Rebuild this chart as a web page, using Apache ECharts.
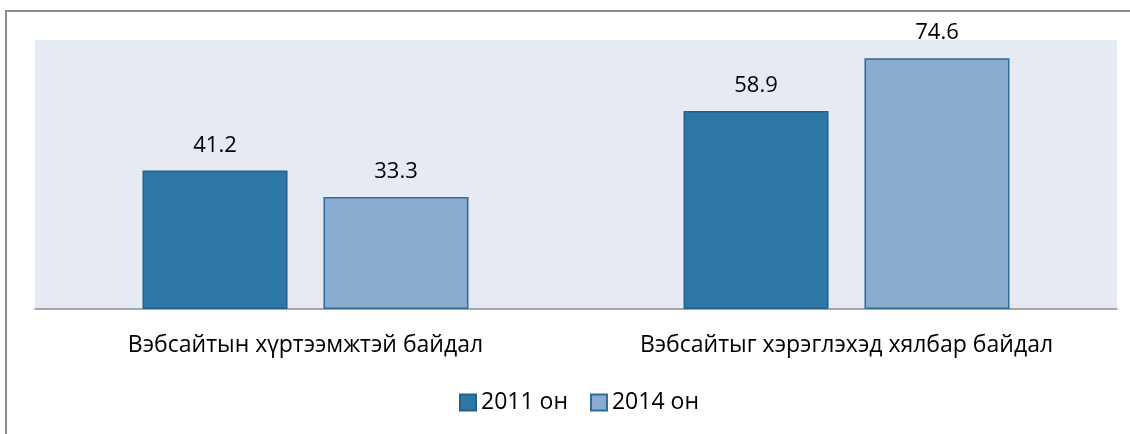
<!DOCTYPE html>
<html>
<head>
<meta charset="utf-8">
<script src="https://cdn.jsdelivr.net/npm/echarts@6/dist/echarts.min.js"></script>
<style>
  html, body { margin: 0; padding: 0; background: #ffffff; }
  #chart { width: 1130px; height: 434px; }
</style>
</head>
<body>
<div id="chart"></div>
<script>
// Survey indicators, by year
const categories = ['Вэбсайтын хүртээмжтэй байдал', 'Вэбсайтыг хэрэглэхэд хялбар байдал'];
const seriesNames = ['2011 он', '2014 он'];
const values2011 = [41.2, 58.9];
const values2014 = [33.3, 74.6];

const FONT = '"Open Sans", "Noto Sans", sans-serif';

const chart = echarts.init(document.getElementById('chart'), null, { renderer: 'canvas' });

function barSeries(name, data, fill, border) {
  return {
    name: name,
    type: 'bar',
    data: data,
    barWidth: 145,
    barGap: '24.8%',
    itemStyle: { color: fill, borderColor: border, borderWidth: 1.5 },
    label: {
      show: true,
      position: 'top',
      distance: 14,
      color: '#000000',
      fontFamily: FONT,
      fontSize: 22,
      formatter: p => p.value.toFixed(1)
    }
  };
}

chart.setOption({
  animation: false,
  backgroundColor: '#ffffff',
  textStyle: { fontFamily: FONT },
  graphic: [{
    type: 'rect',
    silent: true,
    shape: { x: 6, y: 11, width: 1200, height: 500 },
    style: { fill: 'none', stroke: '#8c8c8c', lineWidth: 2 }
  }],
  grid: {
    left: 35, right: 13, top: 40, bottom: 125,
    show: true,
    backgroundColor: '#e6eaf3',
    borderWidth: 0
  },
  legend: {
    data: seriesNames,
    left: 454,
    top: 386,
    icon: 'rect',
    itemWidth: 16,
    itemHeight: 16,
    itemGap: 22,
    textStyle: { fontFamily: FONT, fontSize: 23, color: '#000000' }
  },
  xAxis: {
    type: 'category',
    data: categories,
    axisLine: { show: true, lineStyle: { color: '#8c8c8c', width: 1.5 } },
    axisTick: { show: false },
    axisLabel: {
      margin: 25,
      color: '#000000',
      fontFamily: FONT,
      fontSize: 23
    }
  },
  yAxis: {
    type: 'value',
    min: 0,
    max: 80,
    show: false,
    splitLine: { show: false }
  },
  series: [
    barSeries(seriesNames[0], values2011, '#2d77a6', '#23608e'),
    barSeries(seriesNames[1], values2014, '#8aacce', '#2f6a98')
  ]
});
</script>
</body>
</html>
